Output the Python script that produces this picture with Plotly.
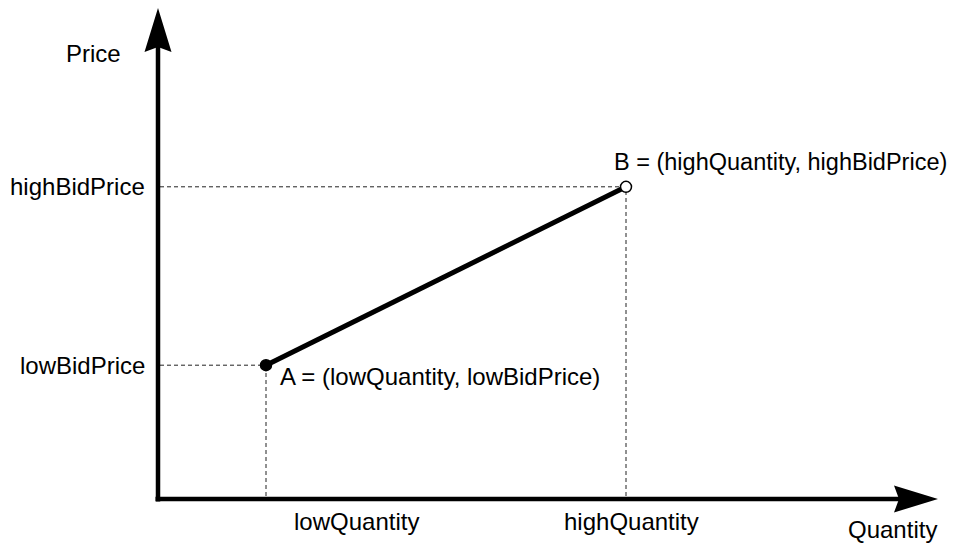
import plotly.graph_objects as go

# ---- data (abstract units) ----
point_names = ["A", "B"]
quantities = [3, 13]          # lowQuantity, highQuantity
prices = [3, 7]               # lowBidPrice, highBidPrice
x_tick_labels = ["lowQuantity", "highQuantity"]
y_tick_labels = ["lowBidPrice", "highBidPrice"]
point_labels = ["A = (lowQuantity, lowBidPrice)", "B = (highQuantity, highBidPrice)"]
x_axis_title = "Quantity"
y_axis_title = "Price"

# ---- layout geometry (pixels) ----
W, H = 960, 544
X0, Y0 = 158, 499          # pixel of origin
SX, SY = 36.0, 44.6        # pixels per unit


def dx(px):
    return px / SX


def dy(px):
    return px / SY


x_range = [-X0 / SX, (W - X0) / SX]
y_range = [-(H - Y0) / SY, Y0 / SY]

x_tip = (938 - X0) / SX
y_tip = (Y0 - 8) / SY
head_len, head_half, notch = 44, 13.5, 5
axis_w = 4.5
FONT = dict(family="Liberation Sans, Arial, Helvetica, sans-serif", size=24, color="black")
FONT_B = dict(FONT, size=23.5)

fig = go.Figure()

# segment A-B
fig.add_trace(go.Scatter(x=quantities, y=prices, mode="lines",
                         line=dict(color="black", width=5), hoverinfo="skip", showlegend=False))
# points
fig.add_trace(go.Scatter(x=quantities, y=prices, mode="markers",
                         marker=dict(size=11, color=["black", "white"],
                                     line=dict(color="black", width=1.5)),
                         hoverinfo="skip", showlegend=False))

shapes = []
# dashed guides
for q, p in zip(quantities, prices):
    shapes.append(dict(type="line", x0=dx(2), x1=q, y0=p, y1=p, xref="x", yref="y",
                       line=dict(color="#222", width=1, dash="4px,3px"), layer="below"))
    shapes.append(dict(type="line", x0=q, x1=q, y0=dy(3), y1=p, xref="x", yref="y",
                       line=dict(color="#222", width=1, dash="4px,3px"), layer="below"))

# axes lines
shapes.append(dict(type="line", x0=0, x1=0, y0=-dy(2.5), y1=y_tip - dy(head_len - notch - 1),
                   xref="x", yref="y", line=dict(color="black", width=axis_w)))
shapes.append(dict(type="line", x0=-dx(2.5), x1=x_tip - dx(head_len - notch - 1), y0=0, y1=0,
                   xref="x", yref="y", line=dict(color="black", width=axis_w)))

# arrowheads
yb = y_tip - dy(head_len)
yn = y_tip - dy(head_len - notch)
shapes.append(dict(type="path", xref="x", yref="y", fillcolor="black", line=dict(width=0),
                   path=f"M0,{y_tip} L{dx(head_half)},{yb} L0,{yn} L{-dx(head_half)},{yb} Z"))
xb = x_tip - dx(head_len)
xn = x_tip - dx(head_len - notch)
shapes.append(dict(type="path", xref="x", yref="y", fillcolor="black", line=dict(width=0),
                   path=f"M{x_tip},0 L{xb},{dy(head_half)} L{xn},0 L{xb},{-dy(head_half)} Z"))

annotations = []
# y tick labels
for p, lab in zip(prices, y_tick_labels):
    annotations.append(dict(x=0, y=p, xref="x", yref="y", text=lab, showarrow=False,
                            xanchor="right", yanchor="middle", xshift=-11, font=FONT))
# x tick labels
x_label_shift = [26, -64]
for q, lab, s in zip(quantities, x_tick_labels, x_label_shift):
    annotations.append(dict(x=q, y=0, xref="x", yref="y", text=lab, showarrow=False,
                            xanchor="left", yanchor="middle", xshift=s, yshift=-22, font=FONT))
# point labels
pt_shift = [(12, -11), (-14, 25)]
pt_fonts = [FONT, FONT_B]
for q, p, lab, (sx, sy), f in zip(quantities, prices, point_labels, pt_shift, pt_fonts):
    annotations.append(dict(x=q, y=p, xref="x", yref="y", text=lab, showarrow=False,
                            xanchor="left", yanchor="middle", xshift=sx, yshift=sy, font=f))
# axis titles
annotations.append(dict(x=x_tip, y=0, xref="x", yref="y", text=x_axis_title, showarrow=False,
                        xanchor="right", yanchor="middle", xshift=0, yshift=-30, borderpad=0,
                        font=FONT))
annotations.append(dict(x=0, y=y_tip, xref="x", yref="y", text=y_axis_title, showarrow=False,
                        xanchor="right", yanchor="middle", xshift=-35, yshift=-45, font=FONT))

fig.update_layout(
    width=W, height=H,
    margin=dict(l=0, r=0, t=0, b=0),
    paper_bgcolor="white", plot_bgcolor="white",
    xaxis=dict(range=x_range, visible=False, fixedrange=True),
    yaxis=dict(range=y_range, visible=False, fixedrange=True),
    shapes=shapes, annotations=annotations, showlegend=False,
)

fig.write_html("out.html", config={"displayModeBar": False},
               post_script="document.body.style.margin='0px';document.body.style.overflow='hidden';")
